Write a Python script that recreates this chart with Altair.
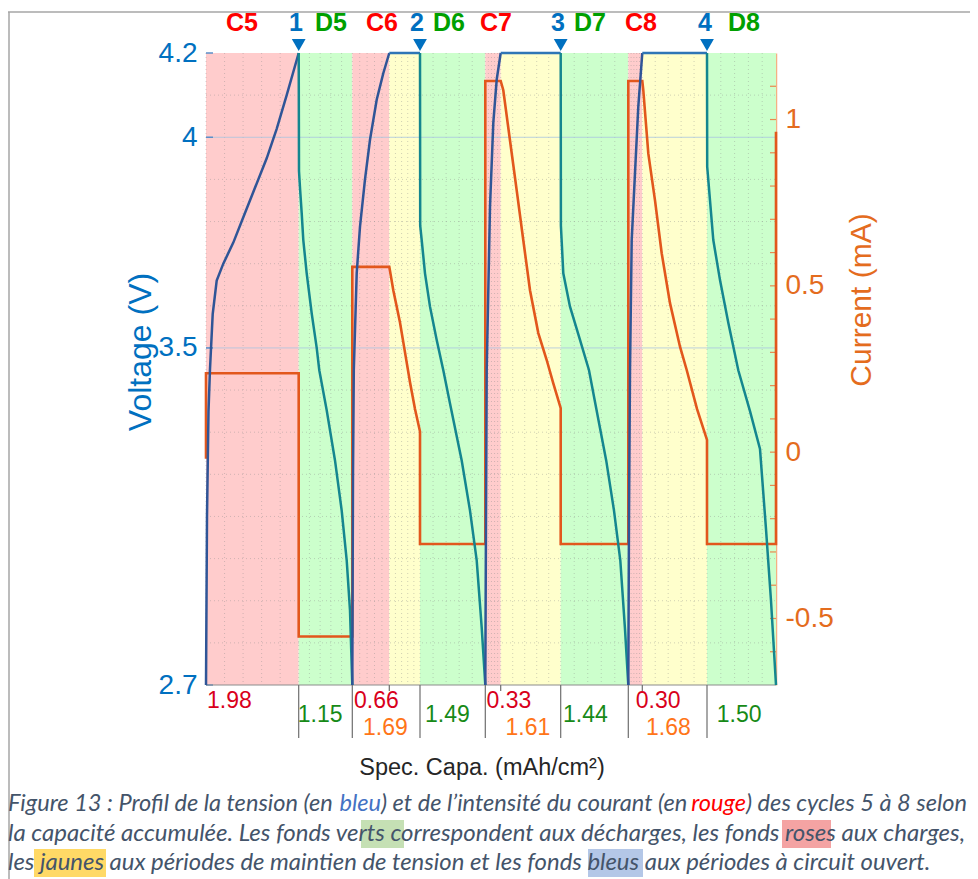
import altair as alt
import pandas as pd

# ---------------- data ----------------
# step boundaries along the (capacity-proportional) x axis
seg_bounds = [0.0, 9.27, 14.63, 18.33, 21.40, 27.93, 29.47, 35.47, 42.23, 43.63, 50.10, 57.00]
seg_kinds = ["charge", "discharge", "charge", "hold", "discharge", "charge", "hold",
             "discharge", "charge", "hold", "discharge"]

# voltage curves (V)
c5_x = [0.0, 0.1, 0.25, 0.4, 0.67, 1.07, 1.73, 2.73, 3.73, 4.73, 6.07, 7.07, 8.07, 9.27]
c5_v = [2.70, 3.10, 3.35, 3.45, 3.58, 3.66, 3.70, 3.75, 3.81, 3.87, 3.95, 4.02, 4.10, 4.20]
d5_x = [9.27, 9.30, 9.40, 9.57, 9.73, 10.07, 10.57, 11.07, 11.33, 12.07, 12.90, 13.57, 14.07, 14.40, 14.63]
d5_v = [4.20, 3.92, 3.88, 3.82, 3.756, 3.677, 3.582, 3.50, 3.447, 3.352, 3.233, 3.114, 2.996, 2.877, 2.70]
c6_x = [14.63, 14.70, 14.78, 15.07, 15.40, 15.90, 16.40, 17.07, 17.73, 18.33]
c6_v = [2.70, 3.20, 3.447, 3.677, 3.788, 3.90, 3.994, 4.089, 4.152, 4.20]
h6_x = [18.33, 21.40]
h6_v = [4.20, 4.20]
d6_x = [21.40, 21.42, 21.57, 21.90, 22.40, 23.07, 23.73, 24.40, 25.57, 26.40, 27.07, 27.57, 27.93]
d6_v = [4.20, 3.79, 3.756, 3.677, 3.598, 3.519, 3.447, 3.368, 3.233, 3.114, 2.996, 2.836, 2.70]
c7_x = [27.93, 28.00, 28.07, 28.40, 28.73, 29.07, 29.47]
c7_v = [2.70, 3.10, 3.447, 3.835, 4.034, 4.137, 4.20]
h7_x = [29.47, 35.47]
h7_v = [4.20, 4.20]
d7_x = [35.47, 35.49, 35.73, 36.40, 37.40, 38.30, 38.93, 40.02, 40.80, 41.43, 41.89, 42.23]
d7_v = [4.20, 3.79, 3.677, 3.598, 3.519, 3.447, 3.368, 3.233, 3.114, 2.996, 2.836, 2.70]
c8_x = [42.23, 42.30, 42.40, 42.57, 42.90, 43.23, 43.63]
c8_v = [2.70, 3.10, 3.447, 3.756, 3.915, 4.073, 4.20]
h8_x = [43.63, 50.10]
h8_v = [4.20, 4.20]
d8_x = [50.10, 50.12, 50.40, 50.73, 51.40, 52.23, 53.23, 54.40, 55.40, 56.00, 56.50, 57.00]
d8_v = [4.20, 3.93, 3.85, 3.756, 3.661, 3.56, 3.447, 3.35, 3.26, 3.07, 2.90, 2.70]

# current (mA)
cur_x = [0.0, 0.0, 9.27, 9.27, 14.63, 14.63, 18.33, 18.73, 19.40, 19.90, 20.40, 20.90, 21.40,
         21.40, 27.93, 27.93, 29.47, 29.73, 30.40, 31.07, 31.73, 32.40, 33.23, 34.07, 34.73, 35.47,
         35.47, 42.23, 42.23, 43.63, 43.73, 44.23, 44.90, 45.57, 46.40, 47.40, 48.07, 49.10, 50.10,
         50.10, 57.00, 57.00]
cur_y = [-0.02, 0.237, 0.237, -0.554, -0.554, 0.557, 0.557, 0.487, 0.39, 0.30, 0.21, 0.13, 0.062,
         -0.276, -0.276, 1.116, 1.116, 1.088, 0.937, 0.787, 0.637, 0.487, 0.358, 0.277, 0.207, 0.132,
         -0.276, -0.276, 1.116, 1.116, 1.088, 0.898, 0.757, 0.598, 0.448, 0.317, 0.247, 0.13, 0.037,
         -0.276, -0.276, 0.963]

# axis tick values
volt_ticks = [2.7, 3.5, 4.0, 4.2]
volt_minor = [2.8, 2.9, 3.0, 3.1, 3.2, 3.3, 3.4, 3.6, 3.7, 3.8, 3.9, 4.1]
volt_major = [3.5, 4.0]
cur_labels = [-0.5, 0, 0.5, 1]
cur_ticks = [-0.6, -0.5, -0.4, -0.3, -0.2, -0.1, 0.0, 0.1, 0.2, 0.3, 0.4, 0.5, 0.6, 0.7, 0.8, 0.9, 1.0, 1.1]

# annotations
top_text = ["C5", "1", "D5", "C6", "2", "D6", "C7", "3", "D7", "C8", "4", "D8"]
top_kind = ["C", "N", "D", "C", "N", "D", "C", "N", "D", "C", "N", "D"]
top_pos = [3.6, 9.0, 12.5, 17.6, 21.1, 24.3, 29.0, 35.2, 38.4, 43.5, 49.9, 53.8]
marker_pos = [9.27, 21.40, 35.47, 50.10]

cap_text = ["1.98", "1.15", "0.66", "1.69", "1.49", "0.33", "1.61", "1.44", "0.30", "1.68", "1.50"]
cap_kind = ["charge", "discharge", "charge", "hold", "discharge", "charge", "hold", "discharge",
            "charge", "hold", "discharge"]
cap_pos = [0.1, 9.17, 14.8, 15.7, 21.9, 28.05, 29.95, 35.7, 42.97, 44.0, 51.07]
cap_row = [0, 1, 0, 2, 1, 0, 2, 1, 0, 2, 1]

long_ticks = [9.27, 14.63, 21.40, 27.93, 35.47, 42.23, 50.10]
short_ticks = [18.33, 29.47, 43.63]

# caption pieces: (text, line, anchor x in page px, align, colour key)
caption_pieces = [
    ("Figure 13 : Profil de la tension (en ", 0, 8, "left", "base"),
    ("bleu", 0, 381, "right", "blue"),
    (") et de l’intensité du courant (en ", 0, 381, "left", "base"),
    ("rouge", 0, 746, "right", "red"),
    (") des cycles 5 à 8 selon", 0, 746, "left", "base"),
    ("la capacité accumulée. Les fonds verts correspondent aux décharges, les fonds roses aux charges,",
     1, 8, "left", "base"),
    ("les jaunes aux périodes de maintien de tension et les fonds bleus aux périodes à circuit ouvert.",
     2, 8, "left", "base"),
]
# highlight boxes (page px): x0, x1, line, colour
caption_boxes = [(361, 404, 1, "#C5E0B4"), (782, 831, 1, "#F4A3A3"),
                 (34, 106, 2, "#FFD966"), (588, 643, 2, "#B4C7E7")]

# ---------------- styles ----------------
W, H = 570, 632
OX, OY = 206, 53  # page position of the plot origin
FONT = "Liberation Sans"
BG = {"charge": "#FFCCCC", "discharge": "#CCFFCC", "hold": "#FFFFCC"}
VCOL = {"charge": "#2F5597", "hold": "#2E75B6", "discharge": "#14868F"}
TOPCOL = {"C": "#FF0000", "D": "#00A000", "N": "#0070C0"}
CAPCOL = {"charge": "#D9001B", "discharge": "#178A17", "hold": "#FF7518"}
CAP_Y = [648, 662, 675]
BLUE = "#0070C0"
ORANGE = "#E2571C"
CAPTION_COLS = {"base": "#44546A", "blue": "#4472C4", "red": "#FF0000"}
CAPTION_Y = [804, 834, 863]
CAPTION_FS = [23.6, 24.0, 23.9]

xsc = alt.Scale(domain=[seg_bounds[0], seg_bounds[-1]], nice=False, zero=False)
vsc = alt.Scale(domain=[2.7, 4.2], nice=False, zero=False)
csc = alt.Scale(domain=[-0.7, 1.2], nice=False, zero=False)

# ---------------- tables ----------------
bg_df = pd.DataFrame({"x0": seg_bounds[:-1], "x1": seg_bounds[1:], "kind": seg_kinds})
bg_df["col"] = bg_df["kind"].map(BG)

vgrid_x = []
for a, b in zip(seg_bounds[:-1], seg_bounds[1:]):
    for f in [0.0, 0.2, 0.4, 0.6, 0.8]:
        vgrid_x.append(a + f * (b - a))
vgrid_df = pd.DataFrame({"x": vgrid_x})

steps = [("c5", "charge", c5_x, c5_v), ("d5", "discharge", d5_x, d5_v),
         ("c6", "charge", c6_x, c6_v), ("h6", "hold", h6_x, h6_v),
         ("d6", "discharge", d6_x, d6_v), ("c7", "charge", c7_x, c7_v),
         ("h7", "hold", h7_x, h7_v), ("d7", "discharge", d7_x, d7_v),
         ("c8", "charge", c8_x, c8_v), ("h8", "hold", h8_x, h8_v),
         ("d8", "discharge", d8_x, d8_v)]
rows = []
for name, kind, xs, vs in steps:
    for i, (x, v) in enumerate(zip(xs, vs)):
        rows.append({"x": x, "v": v, "step": name, "col": VCOL[kind], "i": i})
v_df = pd.DataFrame(rows)

c_df = pd.DataFrame({"x": cur_x, "c": cur_y, "i": list(range(len(cur_x)))})

top_df = pd.DataFrame({"t": top_text, "x": top_pos, "col": [TOPCOL[k] for k in top_kind]})
mk_df = pd.DataFrame({"x": marker_pos})
cap_df = pd.DataFrame({"t": cap_text, "x": cap_pos, "col": [CAPCOL[k] for k in cap_kind],
                       "py": [CAP_Y[r] for r in cap_row]})

X = lambda f: alt.X(f, scale=xsc, axis=None)
PX = lambda f: alt.X(f, scale=None, axis=None)
PY = lambda f: alt.Y(f, scale=None, axis=None)

layers = []
# backgrounds
layers.append(alt.Chart(bg_df).mark_rect().encode(
    x=X("x0:Q"), x2="x1:Q", y=alt.value(0), y2=alt.value(H),
    color=alt.Color("col:N", scale=None)))
# grids
layers.append(alt.Chart(vgrid_df).mark_rule(color="#8C8C8C", opacity=0.4, strokeDash=[1, 3], strokeWidth=1).encode(
    x=X("x:Q"), y=alt.value(0), y2=alt.value(H)))
layers.append(alt.Chart(pd.DataFrame({"v": volt_minor})).mark_rule(
    color="#8C8C8C", opacity=0.4, strokeDash=[1, 3], strokeWidth=1).encode(
    y=alt.Y("v:Q", scale=vsc, axis=None), x=alt.value(0), x2=alt.value(W)))
layers.append(alt.Chart(pd.DataFrame({"v": volt_major})).mark_rule(
    color="#A9C4E0", opacity=0.8, strokeWidth=1).encode(
    y=alt.Y("v:Q", scale=vsc, axis=None), x=alt.value(0), x2=alt.value(W)))
# left inner ticks
layers.append(alt.Chart(pd.DataFrame({"v": volt_ticks})).mark_rule(color="#5B8FC9", strokeWidth=1.5).encode(
    y=alt.Y("v:Q", scale=vsc, axis=None), x=alt.value(0), x2=alt.value(7)))
# right inner ticks
layers.append(alt.Chart(pd.DataFrame({"c": cur_ticks})).mark_rule(color="#E8894F", strokeWidth=1.2).encode(
    y=alt.Y("c:Q", scale=csc, axis=None), x=alt.value(W - 6), x2=alt.value(W)))
# bottom axis line and ticks
layers.append(alt.Chart(pd.DataFrame({"a": [0]})).mark_rule(color="#8C8C8C", strokeWidth=1.2).encode(
    x=alt.value(0), x2=alt.value(W), y=alt.value(H)))
layers.append(alt.Chart(pd.DataFrame({"x": long_ticks})).mark_rule(color="#6E6E6E", strokeWidth=1.2).encode(
    x=X("x:Q"), y=alt.value(H), y2=alt.value(H + 53)))
layers.append(alt.Chart(pd.DataFrame({"x": short_ticks})).mark_rule(color="#6E6E6E", strokeWidth=1.2).encode(
    x=X("x:Q"), y=alt.value(H), y2=alt.value(H + 6)))
# current
layers.append(alt.Chart(c_df).mark_line(strokeWidth=2.6, color=ORANGE).encode(
    x=X("x:Q"),
    y=alt.Y("c:Q", scale=csc, axis=alt.Axis(
        orient="right", values=cur_labels, labelExpr="replace(format(datum.value, '~g'), '−', '-')",
        ticks=False, grid=False,
        labelFont=FONT, labelFontSize=28, labelColor="#E46C1E", labelPadding=9,
        domainColor="#F4B183", domainWidth=1.5, title=None)),
    order="i:Q"))
# voltage
layers.append(alt.Chart(v_df).mark_line(strokeWidth=2.5).encode(
    x=X("x:Q"),
    y=alt.Y("v:Q", scale=vsc, axis=alt.Axis(
        orient="left", values=volt_ticks, format="~g", ticks=False, grid=False,
        labelFont=FONT, labelFontSize=28, labelColor=BLUE, labelPadding=9,
        domainColor="#9DC3E6", domainWidth=1, title=None)),
    color=alt.Color("col:N", scale=None), detail="step:N", order="i:Q"))
# markers
layers.append(alt.Chart(mk_df).mark_point(shape="triangle-down", filled=True, size=190, color=BLUE, opacity=1).encode(
    x=X("x:Q"), y=alt.value(-8)))
# top labels
layers.append(alt.Chart(top_df).mark_text(font=FONT, fontSize=25, fontWeight="bold", align="center",
                                          baseline="middle").encode(
    x=X("x:Q"), y=alt.value(-30), text="t:N", color=alt.Color("col:N", scale=None)))
# capacity values
layers.append(alt.Chart(cap_df).mark_text(font=FONT, fontSize=23, align="left", baseline="middle").encode(
    x=X("x:Q"), y=PY("py:Q"), text="t:N", color=alt.Color("col:N", scale=None)))

# titles
titles = [("Voltage (V)", 141, 352, 270, BLUE, 32),
          ("Current (mA)", 862, 300, 270, "#E46C1E", 30),
          ("Spec. Capa. (mAh/cm²)", 482, 768, 0, "#262626", 23.5)]
for t, px, py, ang, col, fs in titles:
    layers.append(alt.Chart(pd.DataFrame({"t": [t], "px": [px - OX], "py": [py - OY]})).mark_text(
        font=FONT, fontSize=fs, angle=ang, align="center", baseline="middle",
        color=col).encode(x=PX("px:Q"), y=PY("py:Q"), text="t:N"))

# frame lines
layers.append(alt.Chart(pd.DataFrame({"a": [0]})).mark_rule(color="#A6A6A6", strokeWidth=1.5).encode(
    x=alt.value(-OX), x2=alt.value(772), y=alt.value(12 - OY)))
layers.append(alt.Chart(pd.DataFrame({"a": [0]})).mark_rule(color="#A6A6A6", strokeWidth=1.5).encode(
    x=alt.value(9 - OX), y=alt.value(12 - OY), y2=alt.value(830)))

# caption: highlight boxes
hl_df = pd.DataFrame({"x0": [b[0] - OX for b in caption_boxes], "x1": [b[1] - OX for b in caption_boxes],
                      "y0": [CAPTION_Y[b[2]] - 14 - OY for b in caption_boxes],
                      "y1": [CAPTION_Y[b[2]] + 14 - OY for b in caption_boxes],
                      "col": [b[3] for b in caption_boxes]})
layers.append(alt.Chart(hl_df).mark_rect().encode(
    x=PX("x0:Q"), x2="x1:Q", y=PY("y0:Q"), y2="y1:Q", color=alt.Color("col:N", scale=None)))

# caption text pieces
for t, line, ax, al, ck in caption_pieces:
    d = pd.DataFrame({"t": [t], "py": [CAPTION_Y[line] - OY]})
    layers.append(alt.Chart(d).mark_text(
        font="Lato", fontStyle="italic", fontSize=CAPTION_FS[line], align=al, baseline="middle",
        color=CAPTION_COLS[ck]).encode(x=alt.value(ax - OX), y=PY("py:Q"), text="t:N"))

chart = alt.layer(*layers).resolve_scale(x="independent", y="independent").properties(
    width=W, height=H, autosize=alt.AutoSizeParams(type="none"),
    padding={"left": 198, "top": 45, "right": 194, "bottom": 194}
).configure_view(stroke=None)

chart.save("out.html", embed_options={"renderer": "svg", "actions": False})
